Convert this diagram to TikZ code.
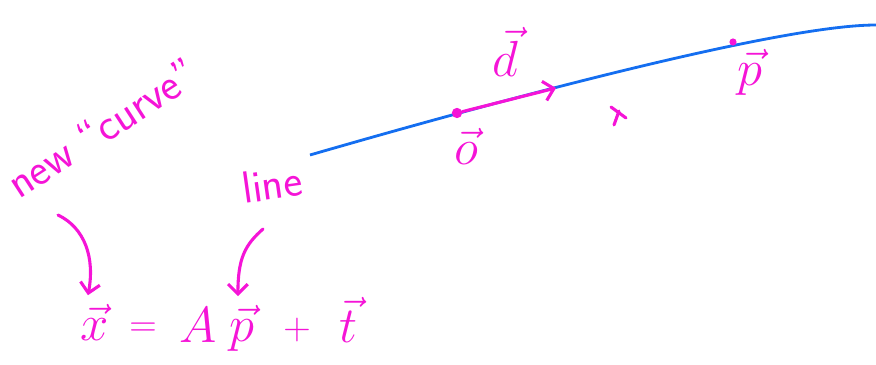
\documentclass[tikz,border=0pt]{standalone}
\usetikzlibrary{arrows.meta}
\definecolor{inkpink}{RGB}{245,20,215}
\definecolor{inkblue}{RGB}{20,110,240}
\begin{document}
\begin{tikzpicture}[
        x=0.025cm, y=-0.025cm,
        word/.style={
            text=inkpink,
            font=\fontsize{32}{36}\selectfont\sffamily
        },
        sym/.style={
            text=inkpink,
            font=\Huge,
            scale=1.45,
            inner sep=0pt
        },
        op/.style={
            sym,
            scale=0.75
        },
        pen/.style={
            draw=inkpink,
            line width=2.2pt,
            line cap=round,
            line join=round
        },
        pointer/.style={
            pen,
            -{Straight Barb[length=7pt,width=14pt]}
        },
        dot/.style={
            circle,
            fill=inkpink,
            inner sep=2.6pt
        }
    ]
    \useasboundingbox (0,0) rectangle (876,365);

    % the line
    \draw[inkblue, line width=2pt] (310,155) .. controls (500,100) and (780,25) .. (876,25);

    % origin and direction
    \node[dot] (o) at (457,113) {};
    \coordinate (dtip) at (556,88);
    \draw[pointer] (o) -- (dtip);
    \node[sym] (olabel) at (466,146) {$\vec{o}$};
    \node[sym] (dlabel) at (505,52) {$\vec{d}$};

    % a point on it
    \node[dot, inner sep=1.8pt] (p) at (733,42) {};
    \node[sym] (plabel) at (750,72) {$\vec{p}$};
    \draw[pen] (611,107) -- (626,118);
    \draw[pen] (619,111) -- (614,125);

    % labels
    \node[word, rotate=33] (newcurve) at (102,128) {new ``curve''};
    \node[word, rotate=8] (line) at (272,184) {line};

    % the formula
    \node[sym] (xvec) at (95,322) {$\vec{x}$};
    \node[op] (eq) at (143,330) {$=$};
    \node[sym] (A) at (198,325) {$A$};
    \node[sym] (pvec) at (242,328) {$\vec{p}$};
    \node[op] (plus) at (297,330) {$+$};
    \node[sym] (tvec) at (348,320) {$\vec{t}$};

    \coordinate (newtail) at (58,215);
    \coordinate (linetail) at (263,229);
    \draw[pointer, shorten >=6pt] (newtail) .. controls (85,228) and (95,258) .. (xvec.115);
    \draw[pointer, shorten >=6pt] (linetail) .. controls (245,245) and (238,258) .. (pvec.100);

\end{tikzpicture}
\end{document}
